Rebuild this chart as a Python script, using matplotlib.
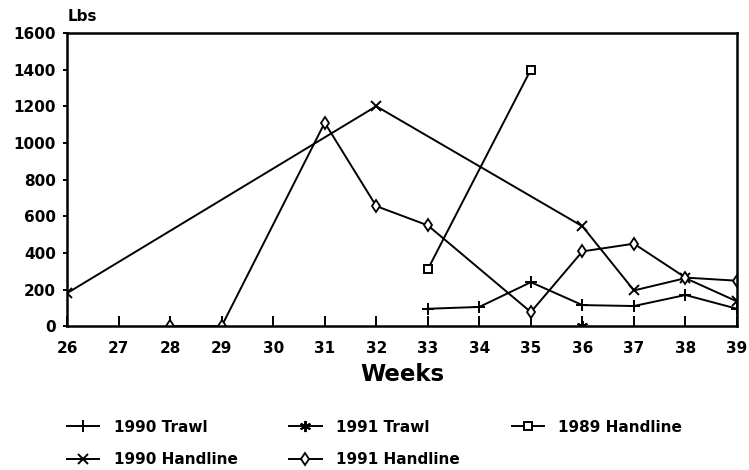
import matplotlib.pyplot as plt

weeks_trawl90 = [33, 34, 35, 36, 37, 38, 39]
lbs_trawl90 = [95, 105, 240, 115, 110, 170, 95]

weeks_trawl91 = [36]
lbs_trawl91 = [0]

weeks_hand89 = [33, 35]
lbs_hand89 = [310, 1400]

weeks_hand90 = [26, 32, 36, 37, 38, 39]
lbs_hand90 = [180, 1200, 545, 195, 262, 135]

weeks_hand91 = [28, 29, 31, 32, 33, 35, 36, 37, 38, 39]
lbs_hand91 = [0, 0, 1110, 655, 550, 77, 408, 450, 265, 248]

xticks = list(range(26, 40))
yticks = list(range(0, 1601, 200))

plt.rcParams['font.family'] = ['DejaVu Sans']
plt.rcParams['font.weight'] = 'bold'

fig = plt.figure(figsize=(7.49, 4.70), dpi=100)
ax = fig.add_axes([0.0895, 0.306, 0.8945, 0.624])

kw = dict(color='black', lw=1.4, mfc='white', mec='black')
l1, = ax.plot(weeks_trawl90, lbs_trawl90, marker='+', ms=9, mew=1.4, label='1990 Trawl', **kw)
l2, = ax.plot(weeks_trawl91, lbs_trawl91, marker=(6, 2, 0), ms=8, mew=1.4, label='1991 Trawl', **kw)
l3, = ax.plot(weeks_hand89, lbs_hand89, marker='s', ms=6, mew=1.4, label='1989 Handline', **kw)
l4, = ax.plot(weeks_hand90, lbs_hand90, marker='x', ms=7, mew=1.4, label='1990 Handline', **kw)
l5, = ax.plot(weeks_hand91, lbs_hand91, marker='d', ms=6, mew=1.3, label='1991 Handline', **kw)

ax.set_xlim(26, 39)
ax.set_ylim(0, 1600)
ax.set_xticks(xticks)
ax.set_yticks(yticks)
ax.tick_params(axis='x', direction='in', length=7, width=1.4, labelsize=11, pad=11)
ax.tick_params(axis='y', direction='out', length=3, width=1.4, labelsize=11, pad=5)
for s in ax.spines.values():
    s.set_linewidth(1.8)

fig.text(0.0905, 0.964, 'Lbs', fontsize=11, fontweight='bold', va='center', ha='left')
fig.text(0.537, 0.204, 'Weeks', fontsize=16.5, fontweight='bold', ha='center', va='center')

fig.legend(handles=[l1, l4, l2, l5, l3], ncol=3, loc='upper left',
           bbox_to_anchor=(0.0895, 0.107), borderaxespad=0, borderpad=0,
           frameon=False, fontsize=11, handlelength=2.1, handletextpad=0.95,
           columnspacing=3.4, labelspacing=1.15)

fig.savefig('out.png', dpi=100)
